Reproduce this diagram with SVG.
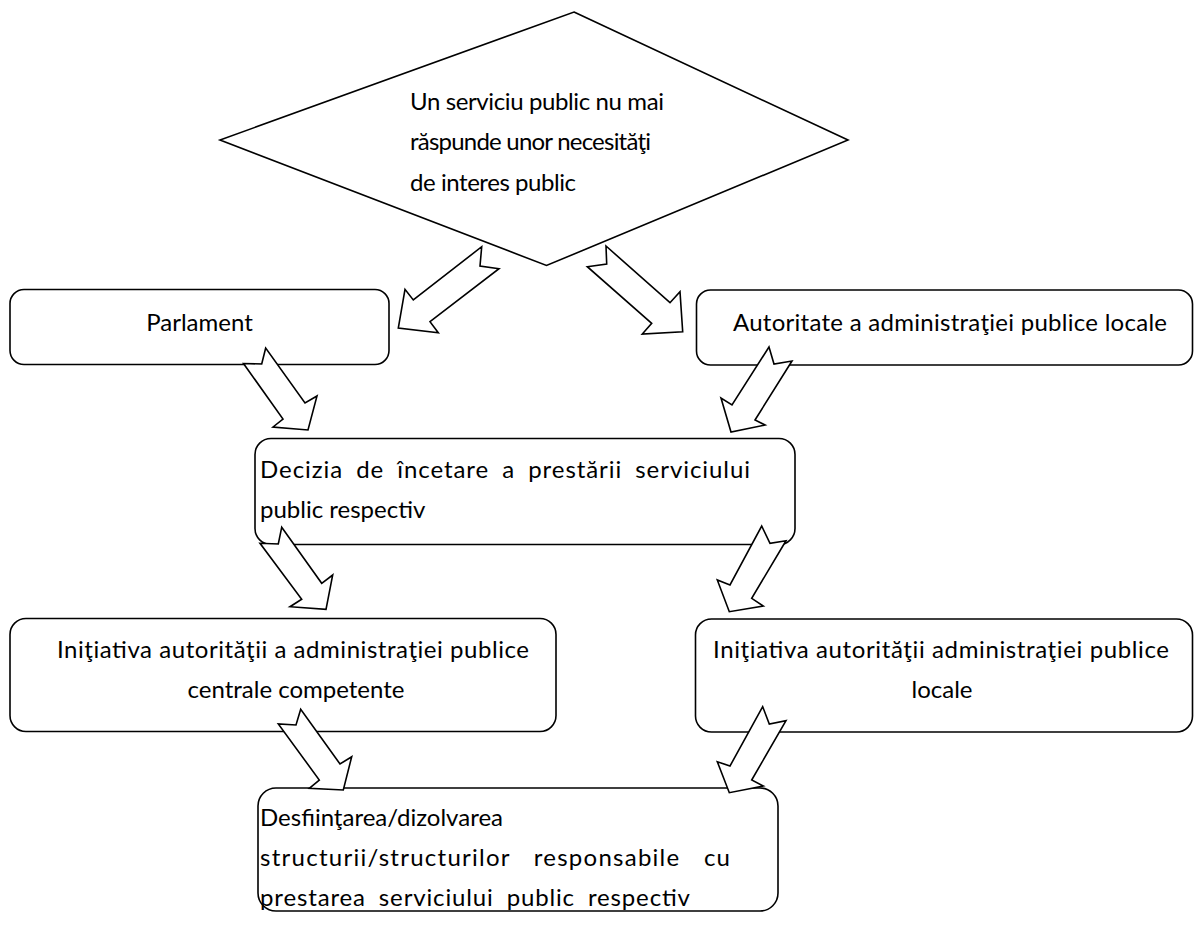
<svg xmlns="http://www.w3.org/2000/svg" width="1194" height="941" viewBox="0 0 1194 941">
<style>
.box{fill:#fff;stroke:#000;stroke-width:1.6}
.arr{fill:#fff;stroke:#000;stroke-width:1.6;stroke-linejoin:miter}
text{font-family:Lato,"Open Sans","Liberation Sans",sans-serif;font-size:24px;fill:#000}
.m{text-anchor:middle}
</style>
<rect width="1194" height="941" fill="#fff"/>
<g id="n-diamond">
<polygon class="box" points="574,12 848,140 546.5,265.5 220,140"/>
<text x="410" y="110" textLength="254">Un serviciu public nu mai</text>
<text x="410" y="150" textLength="241">răspunde unor necesităţi</text>
<text x="410" y="191" textLength="166">de interes public</text>
</g>
<g id="n-parlament">
<rect class="box" x="10" y="289.5" width="379" height="75" rx="14"/>
<text class="m" x="199.5" y="331">Parlament</text>
</g>
<g id="n-autoritate">
<rect class="box" x="696.5" y="290" width="496" height="75" rx="14"/>
<text x="733" y="331" textLength="434">Autoritate a administraţiei publice locale</text>
</g>
<g id="n-decizia">
<rect class="box" x="255" y="438.5" width="540" height="106" rx="16"/>
<text x="260" y="478" word-spacing="6" textLength="490">Decizia de încetare a prestării serviciului</text>
<text x="260" y="518">public respectiv</text>
</g>
<g id="n-init-centrala">
<rect class="box" x="10" y="618.5" width="546" height="113" rx="16"/>
<text class="m" x="293" y="658" textLength="472">Iniţiativa autorităţii a administraţiei publice</text>
<text class="m" x="296" y="698">centrale competente</text>
</g>
<g id="n-init-locala">
<rect class="box" x="695.5" y="619" width="497" height="113" rx="16"/>
<text class="m" x="941" y="658" textLength="456">Iniţiativa autorităţii administraţiei publice</text>
<text class="m" x="942" y="698">locale</text>
</g>
<g id="n-desfiintare">
<rect class="box" x="258" y="788" width="520" height="123" rx="18"/>
<text x="260" y="826">Desfiinţarea/dizolvarea</text>
<text x="260" y="866" word-spacing="16" textLength="470">structurii/structurilor responsabile cu</text>
<text x="260" y="906" word-spacing="6" textLength="430">prestarea serviciului public respectiv</text>
</g>
<g id="connectors">
<polygon class="arr" points="481.7,246.7 480,266 499,268.7 430,321.7 438.3,332.7 398.3,328 405,289.3 413.3,300"/>
<polygon class="arr" points="606,246 606.7,264 587.3,266.7 651.7,323.3 642.3,334 682.7,331.7 680,291.7 670,302.7"/>
<polygon class="arr" points="265.7,348 261.7,364 243.5,363.5 283,419 273,427 308,430 317,396 305,403"/>
<polygon class="arr" points="769,347 774,364 792,361 755,420 765,425 731,432 721,398 732,405"/>
<polygon class="arr" points="281.7,527.3 278.3,544 260,543.3 301.7,599.3 290,606.7 326,609.3 332.7,575 321.7,583.3"/>
<polygon class="arr" points="761.7,526 770,543.3 786,540.7 751.7,598.3 763.3,606 729.3,611.7 717.3,580 730,585"/>
<polygon class="arr" points="300.7,709.3 296,725 278.3,724 319.3,780 309.3,788.3 343.3,790 351.7,756.7 340,764"/>
<polygon class="arr" points="762.7,706.7 769.3,724 786,720.7 751.7,780 763.3,786 729.3,792.7 717.3,761.7 730,766"/>
</g>
</svg>
